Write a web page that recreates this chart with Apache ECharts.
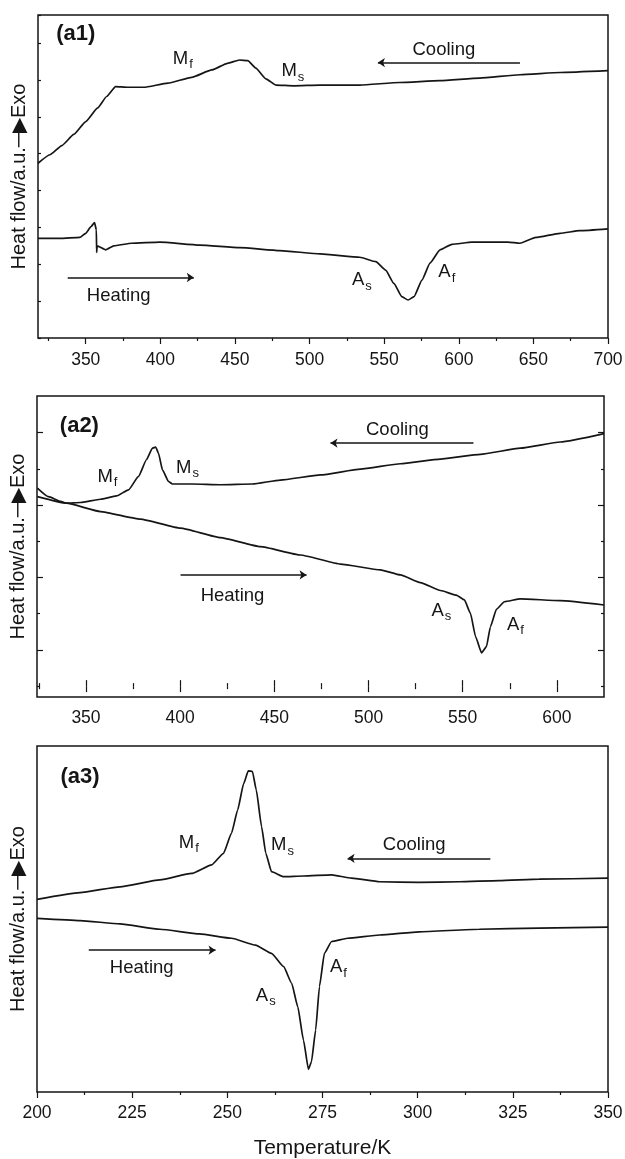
<!DOCTYPE html>
<html><head><meta charset="utf-8">
<script src="https://cdn.jsdelivr.net/npm/echarts@6/dist/echarts.min.js"></script>
<style>html,body{margin:0;padding:0;background:#fff}#c{width:625px;height:1159px}</style>
</head><body><div id="c"></div>
<script>
// ---------- Panel (a1) ----------
const a1CoolT = [318,326,334,342,350,358,364,370,378,389,405,421,434.5,445,453,458.6,464,470.7,477.4,489.5,507,533.7,560.5,587.4,614,641,668,700];
const a1CoolY = [4.74,4.97,5.22,5.52,5.87,6.24,6.55,6.82,6.80,6.80,6.91,7.07,7.27,7.45,7.54,7.52,7.32,7.03,6.86,6.84,6.86,6.86,6.93,6.98,7.05,7.14,7.20,7.25];
const a1HeatT = [318,332.6,346,350,353.5,355.9,357.1,357.3,357.6,363.4,368.8,380.8,399.6,426.4,453.3,480,507,533.7,544.4,551,556.5,561.9,566,570,575.3,580.7,587.4,595.4,608.8,633,641,651.7,667.8,681,700];
const a1HeatY = [2.70,2.70,2.73,2.84,3.02,3.13,2.93,2.32,2.50,2.39,2.50,2.57,2.60,2.52,2.45,2.37,2.28,2.19,2.07,1.84,1.48,1.12,1.03,1.12,1.57,2.03,2.39,2.54,2.60,2.60,2.57,2.73,2.84,2.91,2.96];
const a1XMajor = [350,400,450,500,550,600,650,700];
const a1XMinor = [325,375,425,475,525,575,625,675];
const a1Notes = [[415,7.58,'Mf'],[488.8,7.24,'Ms'],[590,7.81,'Cooling'],[372.1,1.14,'Heating'],[535,1.57,'As'],[592,1.78,'Af'],[343.3,8.25,'(a1)']];
const a1Arrows = [[[641,7.47],[545.8,7.47]],[[337.9,1.64],[422.4,1.64]]];

// ---------- Panel (a2) ----------
const a2CoolT = [324.2,330.1,336.5,339.6,347.1,357.7,366.2,372.6,377.9,382.1,385.3,387,388.5,390.6,393.8,395.9,406.5,421.4,438.4,453.2,474.5,495.7,516.9,538.2,559.4,580.6,601.8,625];
const a2CoolY = [5.47,5.23,5.10,5.05,5.07,5.16,5.25,5.42,5.79,6.25,6.57,6.60,6.43,5.97,5.65,5.58,5.58,5.56,5.58,5.69,5.83,5.99,6.14,6.27,6.40,6.57,6.74,6.97];
const a2HeatT = [324.2,339.6,357.7,378.9,400.2,421.4,442.6,463.9,485.1,506.3,516.9,527.5,538.2,546.6,550.9,554.1,556.8,560,562.6,564.7,567.9,572.1,580.6,601.8,625];
const a2HeatY = [5.23,5.05,4.82,4.61,4.36,4.10,3.85,3.62,3.37,3.21,3.07,2.86,2.64,2.51,2.38,2.01,1.37,0.92,1.09,1.64,2.12,2.33,2.41,2.36,2.24];
const a2XMajor = [350,400,450,500,550,600];
const a2XMinor = [325,375,425,475,525,575];
const a2YMajor = [1,3,5,7];
const a2YMinor = [0,2,4,6];
const a2Notes = [[361.4,5.78,'Mf'],[403.9,6.03,'Ms'],[515.3,7.08,'Cooling'],[427.8,2.49,'Heating'],[538.7,2.08,'As'],[578,1.69,'Af'],[346.5,7.19,'(a2)']];
const a2Arrows = [[[555.7,6.71],[479.8,6.71]],[[400.2,3.07],[467.1,3.07]]];

// ---------- Panel (a3) ----------
const a3CoolT = [200,211.3,221.8,232.3,240.6,245.9,249,251.1,252.7,254.3,255.5,256.6,257.6,259,260.1,261.6,264.8,270,277.4,282.6,290,300.4,310.9,321.4,331.9,350];
const a3CoolY = [5.35,5.54,5.70,5.89,6.07,6.31,6.63,7.19,7.83,8.57,8.92,8.90,8.39,7.37,6.63,6.12,5.98,6.00,6.03,5.94,5.84,5.82,5.84,5.87,5.91,5.94];
const a3HeatT = [200,211.3,221.8,232.3,242.7,251.1,257.4,261.6,264.8,266.9,268.5,270,271.3,272.1,273.2,274.2,275.5,277.4,281.6,290,300.4,316.2,331.9,350];
const a3HeatY = [4.82,4.76,4.67,4.52,4.39,4.27,4.08,3.85,3.48,3.02,2.37,1.44,0.63,0.84,1.72,2.93,3.85,4.18,4.27,4.36,4.45,4.52,4.55,4.58];
const a3XTicks = [200,225,250,275,300,325,350];
const a3Notes = [[239.9,6.92,'Mf'],[264.5,6.86,'Ms'],[299.1,6.86,'Cooling'],[227.5,3.44,'Heating'],[260.1,2.67,'As'],[279.2,3.47,'Af'],[211.3,8.75,'(a3)']];
const a3Arrows = [[[319.1,6.49],[281.6,6.49]],[[213.6,3.94],[246.9,3.94]]];

const yTitle = 'Heat flow/a.u.\u2500\u25B6Exo';
const xTitle = 'Temperature/K';

// ---------- build ----------
const INK = '#151515';
const FONT = '"Liberation Sans", Arial, Helvetica, sans-serif';
const zip = (a, b) => a.map((v, i) => [v, b[i]]);

function noteFmt(p) {
  const k = p.value[2];
  if (/^[MA][fs]$/.test(k)) return '{m|' + k[0] + '}{s|' + k[1] + '}';
  if (k[0] === '(') return '{b|' + k + '}';
  return '{t|' + k + '}';
}
const rich = {
  m: {fontSize: 18.5, lineHeight: 19, color: INK, fontFamily: FONT, opacity: 1},
  s: {fontSize: 13, lineHeight: 13, padding: [12, 0, 0, 1], color: INK, fontFamily: FONT, opacity: 1},
  t: {fontSize: 18.5, lineHeight: 21, color: INK, fontFamily: FONT, opacity: 1},
  b: {fontSize: 22, lineHeight: 25, fontWeight: 'bold', color: INK, fontFamily: FONT, opacity: 1}
};
function lineSeries(xi, yi, t, y) {
  return {type: 'line', xAxisIndex: xi, yAxisIndex: yi, data: zip(t, y), showSymbol: false,
    smooth: 0.15, smoothMonotone: 'x', lineStyle: {color: INK, width: 1.7}, silent: true, animation: false, z: 3};
}
function noteSeries(xi, yi, notes, arrows) {
  return {type: 'scatter', xAxisIndex: xi, yAxisIndex: yi, data: notes, symbolSize: 0,
    itemStyle: {color: INK, opacity: 1}, silent: true, animation: false, z: 4,
    label: {show: true, position: 'inside', formatter: noteFmt, rich: rich, color: INK,
      textBorderWidth: 0, textShadowBlur: 0, opacity: 1},
    markLine: {silent: true, animation: false, symbol: ['none', 'arrow'], symbolSize: 7,
      lineStyle: {color: INK, width: 1.5, type: 'solid', opacity: 1}, label: {show: false},
      data: arrows.map(a => [{coord: a[0]}, {coord: a[1]}])}};
}
function tickAxis(o) {
  return Object.assign({type: 'value', axisLine: {show: false}, splitLine: {show: false},
    axisLabel: {show: false}, axisTick: {show: false}}, o);
}
const tk = (inside, len, vals) => ({show: true, inside: inside, length: len, customValues: vals, lineStyle: {color: INK, width: 1.2}});
const lbl = (vals, margin) => ({show: true, customValues: vals, fontSize: 17.5, color: INK, fontFamily: FONT, margin: margin});
const yName = {name: yTitle, nameLocation: 'middle', nameGap: 9, nameRotate: 90,
  nameTextStyle: {fontSize: 20, color: INK, fontFamily: FONT}};

const gridBase = {show: true, borderColor: INK, borderWidth: 1.5, backgroundColor: 'transparent', containLabel: false, outerBoundsMode: 'none'};
const option = {
  animation: false,
  backgroundColor: '#fff',
  grid: [
    Object.assign({left: 38, top: 15, width: 570, height: 323}, gridBase),
    Object.assign({left: 37, top: 396, width: 567, height: 301}, gridBase),
    Object.assign({left: 37, top: 746, width: 571, height: 346}, gridBase)
  ],
  xAxis: [
    tickAxis({gridIndex: 0, position: 'bottom', min: 318, max: 700, axisTick: tk(false, 6, a1XMajor), axisLabel: lbl(a1XMajor, 13)}),
    tickAxis({gridIndex: 0, position: 'bottom', min: 318, max: 700, axisTick: tk(false, 3, a1XMinor)}),
    tickAxis({gridIndex: 1, position: 'bottom', min: 324, max: 625, axisTick: tk(true, 6, a2XMajor), axisLabel: lbl(a2XMajor, 12)}),
    tickAxis({gridIndex: 1, position: 'bottom', min: 324, max: 625, axisTick: tk(true, 3, a2XMinor)}),
    tickAxis({gridIndex: 1, position: 'top', min: 324, max: 625, axisTick: tk(true, 6, a2XMajor)}),
    tickAxis({gridIndex: 1, position: 'top', min: 324, max: 625, axisTick: tk(true, 3, a2XMinor)}),
    Object.assign(tickAxis({gridIndex: 2, position: 'bottom', min: 200, max: 350, interval: 25,
      axisTick: {show: true, inside: false, length: 6, lineStyle: {color: INK, width: 1.2}},
      minorTick: {show: true, splitNumber: 2, length: 3, lineStyle: {color: INK, width: 1.2}},
      axisLabel: lbl(a3XTicks, 12)}),
      {name: xTitle, nameLocation: 'middle', nameGap: 46, nameTextStyle: {fontSize: 21, color: INK, fontFamily: FONT}})
  ],
  yAxis: [
    Object.assign(tickAxis({gridIndex: 0, position: 'left', min: 0, max: 8.76, interval: 1,
      axisTick: {show: true, inside: true, length: 3, lineStyle: {color: INK, width: 1.2}}}), yName),
    Object.assign(tickAxis({gridIndex: 1, position: 'left', min: -0.3, max: 8.01, axisTick: tk(true, 6, a2YMajor)}), yName),
    tickAxis({gridIndex: 1, position: 'left', min: -0.3, max: 8.01, axisTick: tk(true, 3, a2YMinor)}),
    tickAxis({gridIndex: 1, position: 'right', min: -0.3, max: 8.01, axisTick: tk(true, 6, a2YMajor)}),
    tickAxis({gridIndex: 1, position: 'right', min: -0.3, max: 8.01, axisTick: tk(true, 3, a2YMinor)}),
    Object.assign(tickAxis({gridIndex: 2, position: 'left', min: 0, max: 9.61}), yName)
  ],
  series: [
    lineSeries(0, 0, a1CoolT, a1CoolY),
    lineSeries(0, 0, a1HeatT, a1HeatY),
    noteSeries(0, 0, a1Notes, a1Arrows),
    lineSeries(2, 1, a2CoolT, a2CoolY),
    lineSeries(2, 1, a2HeatT, a2HeatY),
    noteSeries(2, 1, a2Notes, a2Arrows),
    lineSeries(6, 5, a3CoolT, a3CoolY),
    lineSeries(6, 5, a3HeatT, a3HeatY),
    noteSeries(6, 5, a3Notes, a3Arrows)
  ]
};
const chart = echarts.init(document.getElementById('c'), null, {renderer: 'canvas'});
chart.setOption(option);
</script>
</body></html>
